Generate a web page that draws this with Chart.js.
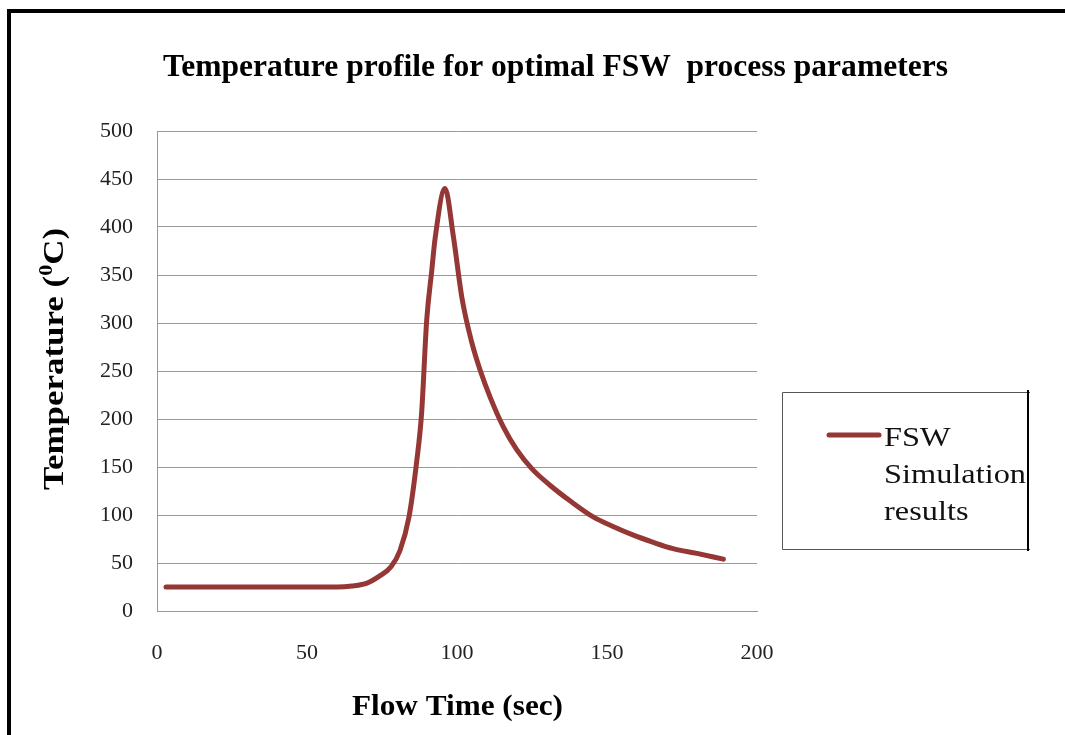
<!DOCTYPE html>
<html>
<head>
<meta charset="utf-8">
<script src="https://cdn.jsdelivr.net/npm/chart.js@4"></script>
<style>
  body { margin: 0; background: #fff; }
  #wrap { width: 1065px; height: 735px; }
</style>
</head>
<body>
<div id="wrap"><canvas id="temp-chart" width="1065" height="735"></canvas></div>
<script>
// data
const flowTime = [3, 15, 30, 45, 60, 65, 70, 74, 78, 81, 84, 86.5, 88.2, 89.9, 91.6, 92.7, 96, 98.8, 101.6, 104.9, 107.7, 111, 115.4, 119.9, 125, 131, 138, 145.4, 152, 158.8, 165, 172, 180, 188.8];
const temperature = [25, 25, 25, 25, 25, 26, 29, 36, 46, 63, 98, 154, 206, 303, 355, 388, 440, 390, 327, 280, 251, 223, 192, 168, 148, 131, 114, 98, 88, 79, 72, 65, 60, 54];
const xTicks = [0, 50, 100, 150, 200];
const yTicks = [0, 50, 100, 150, 200, 250, 300, 350, 400, 450, 500];

const chartTitle = 'Temperature profile for optimal FSW  process parameters';
const xTitle = 'Flow Time (sec)';
// y title in three parts, the 0 is a superscript
const yTitle = ['Temperature (', '0', 'C)'];
const seriesName = ['FSW', 'Simulation', 'results'];

const serif = '"Liberation Serif", "Times New Roman", serif';

// text squeezed / stretched to the width seen in the picture
function fitText(ctx, text, x, y, font, width) {
  ctx.save();
  ctx.font = font;
  const w = ctx.measureText(text).width;
  ctx.translate(x, y);
  ctx.scale(width / w, 1);
  ctx.textAlign = 'left';
  ctx.textBaseline = 'alphabetic';
  ctx.fillText(text, 0, 0);
  ctx.restore();
}

const frame = {
  id: 'frame',
  beforeDraw(chart) {
    const ctx = chart.ctx;
    ctx.save();
    ctx.fillStyle = '#fff';
    ctx.fillRect(0, 0, chart.width, chart.height);
    ctx.fillStyle = '#000';
    ctx.fillRect(7, 9, 4, chart.height - 9);
    ctx.fillRect(7, 9, chart.width - 7, 4);
    ctx.restore();
  },
  afterDraw(chart) {
    const ctx = chart.ctx;
    ctx.save();
    ctx.fillStyle = '#000';
    fitText(ctx, chartTitle, 163, 76, 'bold 31px ' + serif, 785);
    fitText(ctx, xTitle, 352, 715, 'bold 30px ' + serif, 211);

    // y title, rotated, with a small raised 0
    ctx.save();
    ctx.translate(63, 490);
    ctx.rotate(-Math.PI / 2);
    const big = 'bold 30px ' + serif, small = 'bold 19px ' + serif;
    ctx.font = big;
    const w0 = ctx.measureText(yTitle[0]).width, w2 = ctx.measureText(yTitle[2]).width;
    ctx.font = small;
    const w1 = ctx.measureText(yTitle[1]).width;
    const k = 262 / (w0 + w1 + w2);
    fitText(ctx, yTitle[0], 0, 0, big, w0 * k);
    fitText(ctx, yTitle[1], w0 * k, -11, small, w1 * k);
    fitText(ctx, yTitle[2], (w0 + w1) * k, 0, big, w2 * k);
    ctx.restore();

    // legend box
    const ds = chart.data.datasets[0];
    ctx.strokeStyle = '#555';
    ctx.lineWidth = 1;
    ctx.beginPath();
    ctx.moveTo(1030, 392.5);
    ctx.lineTo(782.5, 392.5);
    ctx.lineTo(782.5, 549.5);
    ctx.lineTo(1030, 549.5);
    ctx.stroke();
    ctx.fillStyle = '#000';
    ctx.fillRect(1027, 390, 2, 161);

    ctx.strokeStyle = ds.borderColor;
    ctx.lineWidth = 5;
    ctx.lineCap = 'round';
    ctx.beginPath();
    ctx.moveTo(829, 435);
    ctx.lineTo(879, 435);
    ctx.stroke();

    ctx.fillStyle = '#111';
    ctx.font = '28px ' + serif;
    const kl = 142 / ctx.measureText(seriesName[1]).width;
    const base = [446, 483, 520];
    seriesName.forEach((t, i) => {
      ctx.font = '28px ' + serif;
      fitText(ctx, t, 884, base[i], '28px ' + serif, ctx.measureText(t).width * kl);
    });
    ctx.restore();
  }
};

const ctx = document.getElementById('temp-chart').getContext('2d');

new Chart(ctx, {
  type: 'scatter',
  data: {
    datasets: [{
      label: seriesName.join(' '),
      data: flowTime.map((t, i) => ({ x: t, y: temperature[i] })),
      showLine: true,
      borderColor: '#953735',
      backgroundColor: '#953735',
      borderWidth: 5,
      pointRadius: 0,
      cubicInterpolationMode: 'monotone',
      borderCapStyle: 'round',
      borderJoinStyle: 'round'
    }]
  },
  options: {
    responsive: false,
    devicePixelRatio: 1,
    animation: false,
    layout: { padding: { left: 0, right: 308, top: 131, bottom: 0 } },
    plugins: {
      legend: { display: false },
      title: { display: false },
      tooltip: { enabled: false }
    },
    scales: {
      x: {
        type: 'linear',
        min: 0,
        max: 200,
        afterBuildTicks: s => { s.ticks = xTicks.map(v => ({ value: v })); },
        afterFit: s => { s.height = 124; },
        grid: { display: false, drawTicks: false },
        border: { display: true, color: '#999', width: 1 },
        ticks: { padding: 29, color: '#222', font: { family: serif, size: 22 } }
      },
      y: {
        type: 'linear',
        min: 0,
        max: 500,
        afterBuildTicks: s => { s.ticks = yTicks.map(v => ({ value: v })); },
        afterFit: s => { s.width = 157; },
        grid: { color: '#999', lineWidth: 1, drawTicks: false },
        border: { display: true, color: '#999', width: 1 },
        ticks: { padding: 24, color: '#222', font: { family: serif, size: 22 } }
      }
    }
  },
  plugins: [frame]
});
</script>
</body>
</html>
